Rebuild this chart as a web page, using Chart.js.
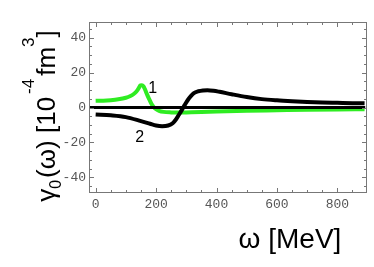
<!DOCTYPE html>
<html>
<head>
<meta charset="utf-8">
<script src="https://cdn.jsdelivr.net/npm/chart.js@4"></script>
<style>
  body { margin: 0; background: #fff; }
  #wrap { width: 374px; height: 267px; }
</style>
</head>
<body>
<div id="wrap"><canvas id="chart" width="374" height="267"></canvas></div>
<script>
'use strict';

// curve 1 (green)
const omega1 = [0, 25, 50, 75, 100, 115, 125, 135, 143, 148, 153, 158, 163, 170, 178, 185, 192, 200, 210, 225, 250, 275, 300, 350, 400, 500, 600, 700, 800, 890];
const gamma1 = [3.8, 3.9, 4.2, 4.7, 5.6, 6.6, 7.6, 9.2, 11.2, 12.6, 12.7, 12.2, 10.5, 7.5, 4.5, 2.0, 0.3, -1.0, -1.9, -2.5, -2.8, -2.9, -2.8, -2.6, -2.3, -1.9, -1.6, -1.3, -1.1, -1.0];

// curve 2 (black)
const omega2 = [0, 50, 100, 150, 180, 200, 220, 240, 255, 265, 275, 285, 295, 305, 315, 325, 340, 355, 370, 390, 410, 450, 500, 550, 600, 650, 700, 750, 800, 850, 890];
const gamma2 = [-4.0, -4.5, -5.5, -7.8, -9.3, -10.3, -10.7, -10.3, -9.0, -7.0, -4.3, -1.5, 1.5, 4.3, 6.5, 8.2, 9.3, 9.8, 9.9, 9.6, 9.0, 7.6, 6.0, 4.8, 4.1, 3.6, 3.2, 2.9, 2.7, 2.5, 2.4];

// horizontal axis line
const zeroX = [-22, 892];
const zeroY = [0, 0];

const xTicks = [0, 200, 400, 600, 800];
const yTicks = [-40, -20, 0, 20, 40];
const curveLabels = [
  { text: '1', x: 189, y: 11 },
  { text: '2', x: 146, y: -17 },
];

function toPoints(xs, ys) {
  return xs.map((x, i) => ({ x: x, y: ys[i] }));
}

function drawParts(ctx, parts, x, y) {
  // centred run of text pieces with own size, baseline shift and gap
  let total = 0;
  for (let p of parts) {
    ctx.font = p.size + 'px "Liberation Sans", Arial, sans-serif';
    p.w = ctx.measureText(p.t).width + (p.gap || 0);
    total += p.w;
  }
  let cx = x - total / 2;
  for (let p of parts) {
    ctx.font = p.size + 'px "Liberation Sans", Arial, sans-serif';
    ctx.fillText(p.t, cx, y + (p.dy || 0));
    cx += p.w;
  }
}

const frameAndText = {
  id: 'frameAndText',
  afterDraw(chart) {
    const { ctx, chartArea: a, scales: { x, y } } = chart;
    ctx.save();
    ctx.strokeStyle = '#777';
    ctx.lineWidth = 1;
    ctx.strokeRect(a.left + 0.5, a.top + 0.5, a.right - a.left - 1, a.bottom - a.top - 1);

    ctx.beginPath();
    for (let v = 0; v <= x.max; v += 50) {
      const px = Math.round(x.getPixelForValue(v)) + 0.5;
      const len = v % 200 === 0 ? 5 : 3;
      ctx.moveTo(px, a.bottom); ctx.lineTo(px, a.bottom - len);
      ctx.moveTo(px, a.top); ctx.lineTo(px, a.top + len);
    }
    for (let v = -45; v <= 45; v += 5) {
      const py = Math.round(y.getPixelForValue(v)) + 0.5;
      const len = v % 20 === 0 ? 5 : 3;
      ctx.moveTo(a.left, py); ctx.lineTo(a.left + len, py);
      ctx.moveTo(a.right, py); ctx.lineTo(a.right - len, py);
    }
    ctx.stroke();

    ctx.fillStyle = '#000';
    ctx.font = '16px "Liberation Sans", Arial, sans-serif';
    ctx.textAlign = 'center';
    ctx.textBaseline = 'middle';
    for (let l of curveLabels) {
      ctx.fillText(l.text, x.getPixelForValue(l.x), y.getPixelForValue(l.y));
    }
    ctx.textAlign = 'left';
    ctx.textBaseline = 'alphabetic';

    // x title
    drawParts(ctx, [{ t: '\u03c9 [MeV]', size: 28 }], 290, 248);

    // y title
    ctx.translate(55, 116);
    ctx.rotate(-Math.PI / 2);
    drawParts(ctx, [
      { t: '\u03b3', size: 26 },
      { t: '0', size: 16, dy: 6, gap: 2 },
      { t: '(\u03c9) [10', size: 26, gap: 3 },
      { t: '-4', size: 17, dy: -21, gap: 3 },
      { t: 'fm', size: 26 },
      { t: '3', size: 17, dy: -21 },
      { t: ']', size: 26 },
    ], 0, 0);
    ctx.restore();
  }
};

new Chart(document.getElementById('chart'), {
  type: 'line',
  data: {
    datasets: [
      {
        label: 'axis',
        data: toPoints(zeroX, zeroY),
        borderColor: '#000',
        borderWidth: 3,
        pointRadius: 0,
      },
      {
        label: '2',
        data: toPoints(omega2, gamma2),
        borderColor: '#000',
        borderWidth: 4,
        pointRadius: 0,
        cubicInterpolationMode: 'monotone',
      },
      {
        label: '1',
        data: toPoints(omega1, gamma1),
        borderColor: '#2fec22',
        borderWidth: 4,
        pointRadius: 0,
        cubicInterpolationMode: 'monotone',
      },
    ]
  },
  options: {
    responsive: false,
    animation: false,
    layout: { padding: { top: 22, right: 7, left: 0, bottom: 0 } },
    plugins: {
      legend: { display: false },
      tooltip: { enabled: false },
    },
    scales: {
      x: {
        type: 'linear',
        min: -22,
        max: 898,
        afterBuildTicks: (s) => { s.ticks = xTicks.map(v => ({ value: v })); },
        afterFit: (s) => { s.height = 74; },
        grid: { display: false, drawTicks: false },
        border: { display: false },
        ticks: {
          maxRotation: 0,
          padding: 4,
          color: '#555',
          font: { family: '"Liberation Mono", "Courier New", monospace', size: 13 },
        }
      },
      y: {
        type: 'linear',
        min: -49,
        max: 49,
        afterBuildTicks: (s) => { s.ticks = yTicks.map(v => ({ value: v })); },
        afterFit: (s) => { s.width = 89; },
        grid: { display: false, drawTicks: false },
        border: { display: false },
        ticks: {
          padding: 3,
          color: '#555',
          font: { family: '"Liberation Mono", "Courier New", monospace', size: 13 },
        }
      }
    }
  },
  plugins: [frameAndText],
});
</script>
</body>
</html>
